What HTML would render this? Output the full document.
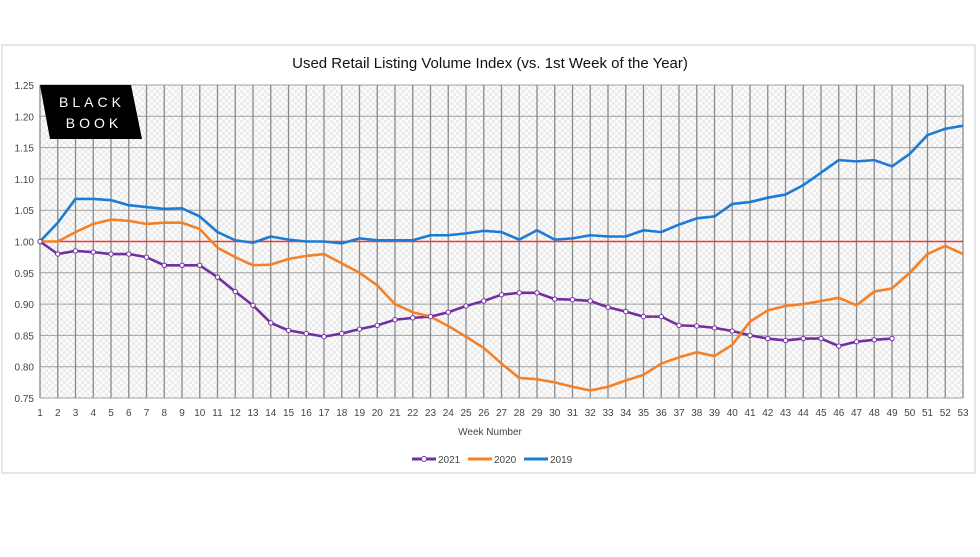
<!DOCTYPE html><html><head><meta charset="utf-8"><style>
body{margin:0;background:#fff;width:980px;height:552px;overflow:hidden;font-family:"Liberation Sans",sans-serif}
</style></head><body>
<svg id="c" width="980" height="552" xmlns="http://www.w3.org/2000/svg" font-family="Liberation Sans, sans-serif">
<defs><pattern id="p" width="6" height="6" patternUnits="userSpaceOnUse"><rect width="6" height="6" fill="#fbfbfb"/><rect width="3" height="3" fill="#ececec"/><rect x="3" y="3" width="3" height="3" fill="#ececec"/></pattern></defs>
<rect x="2" y="45" width="973" height="428" fill="#fff" stroke="#ddd" stroke-width="1.5"/>
<text x="490" y="68" text-anchor="middle" font-size="15" fill="#111">Used Retail Listing Volume Index (vs. 1st Week of the Year)</text>
<rect x="40" y="85" width="923" height="313" fill="url(#p)"/>
<g id="g"></g>
<polygon points="40,85 131,85 142,139 50,139" fill="#000"/>
<text x="92" y="107" text-anchor="middle" font-size="14" fill="#fff" letter-spacing="4">BLACK</text>
<text x="94" y="128" text-anchor="middle" font-size="14" fill="#fff" letter-spacing="4">BOOK</text>
<text x="490" y="435" text-anchor="middle" font-size="10" fill="#444">Week Number</text>
<line x1="412" y1="459" x2="436" y2="459" stroke="#7030a0" stroke-width="3"/><circle cx="424" cy="459" r="2.5" fill="#fff" stroke="#7030a0"/>
<text x="438" y="463" font-size="10" fill="#444">2021</text>
<line x1="468" y1="459" x2="492" y2="459" stroke="#f58025" stroke-width="3"/>
<text x="494" y="463" font-size="10" fill="#444">2020</text>
<line x1="524" y1="459" x2="548" y2="459" stroke="#1c7cd5" stroke-width="3"/>
<text x="550" y="463" font-size="10" fill="#444">2019</text>
</svg>
<script>
var g=document.getElementById('g'),s='';
function X(w){return 40+(w-1)*17.75}function Y(v){return 241.5-(v-1)*626}
for(var i=0;i<=10;i++){var v=0.75+i*0.05,y=Y(v);s+='<line x1="40" x2="963" y1="'+y+'" y2="'+y+'" stroke="#a0a0a0" stroke-width="1"/>';s+='<text x="34" y="'+(y+4)+'" text-anchor="end" font-size="10" fill="#444">'+v.toFixed(2)+'</text>';}
for(var w=1;w<=53;w++){var x=X(w);s+='<line x1="'+x+'" x2="'+x+'" y1="85" y2="398" stroke="#8a8a8a" stroke-width="1.3"/>';s+='<text x="'+x+'" y="416" text-anchor="middle" font-size="10" fill="#444">'+w+'</text>';}
s+='<line x1="40" x2="963" y1="'+Y(1)+'" y2="'+Y(1)+'" stroke="#ff3333" stroke-width="1.5"/>';
var b=[1,1.03,1.068,1.068,1.066,1.058,1.055,1.052,1.053,1.04,1.015,1.002,.998,1.008,1.003,1,1,.997,1.005,1.002,1.002,1.002,1.01,1.01,1.013,1.017,1.015,1.003,1.018,1.003,1.005,1.01,1.008,1.008,1.018,1.015,1.027,1.037,1.04,1.06,1.063,1.07,1.075,1.09,1.11,1.13,1.128,1.13,1.12,1.14,1.17,1.18,1.185];
var o=[1,1,1.015,1.028,1.035,1.033,1.028,1.03,1.03,1.02,.99,.975,.962,.963,.972,.977,.98,.965,.95,.93,.9,.887,.88,.865,.848,.83,.805,.782,.78,.775,.768,.762,.768,.778,.787,.805,.815,.823,.817,.835,.872,.89,.897,.9,.905,.91,.898,.92,.925,.95,.98,.993,.98];
var p=[1,.98,.985,.983,.98,.98,.975,.962,.962,.962,.943,.92,.898,.87,.858,.853,.848,.853,.86,.866,.875,.878,.88,.887,.897,.905,.915,.918,.918,.908,.907,.905,.895,.888,.88,.88,.866,.865,.862,.857,.85,.845,.842,.845,.845,.833,.84,.843,.845];
function L(a,c){return '<polyline fill="none" stroke="'+c+'" stroke-width="2.6" stroke-linejoin="round" points="'+a.map(function(v,i){return X(i+1)+','+Y(v)}).join(' ')+'"/>'}
s+=L(p,'#7030a0')+L(o,'#f58025')+L(b,'#1c7cd5');
p.forEach(function(v,i){s+='<circle cx="'+X(i+1)+'" cy="'+Y(v)+'" r="2.2" fill="#fff" stroke="#7030a0" stroke-width="1"/>'});
g.innerHTML=s;
</script>
</body></html>
